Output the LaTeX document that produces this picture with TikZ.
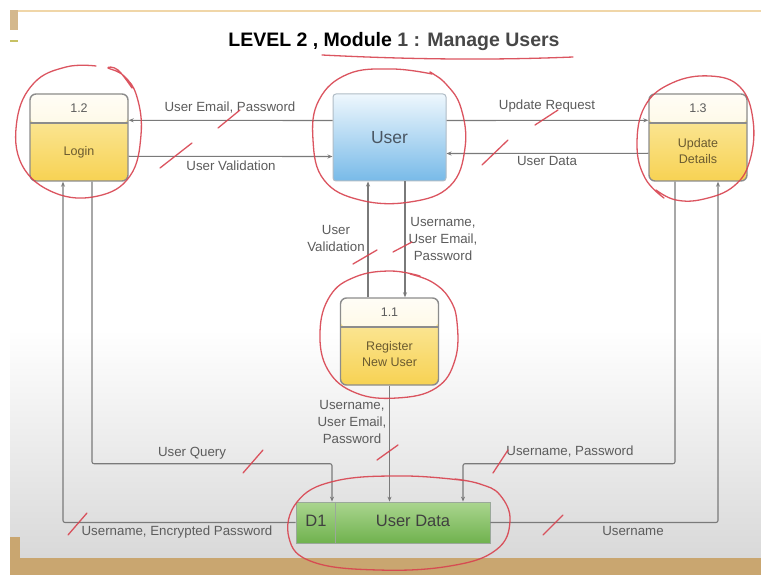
\documentclass[tikz,border=0pt]{standalone}
\usepackage{fontspec}
\setmainfont{Liberation Sans}
\usetikzlibrary{arrows.meta,calc}

\definecolor{linecol}{HTML}{7A7A7A}
\definecolor{lblcol}{HTML}{5C5C5C}
\definecolor{redink}{HTML}{D8434F}
\definecolor{procborder}{HTML}{8C8C8C}
\definecolor{headtop}{HTML}{FFFDF6}
\definecolor{headbot}{HTML}{FDF2CC}
\definecolor{bodytop}{HTML}{FCEDAE}
\definecolor{bodybot}{HTML}{F7D253}
\definecolor{proctext}{HTML}{6A5A30}
\definecolor{usertop}{HTML}{EEF7FD}
\definecolor{userbot}{HTML}{78BAE8}
\definecolor{userborder}{HTML}{B0BCC6}
\definecolor{usertext}{HTML}{4A5662}
\definecolor{storetop}{HTML}{AAD58F}
\definecolor{storebot}{HTML}{70B24E}
\definecolor{storeborder}{HTML}{9AA89A}
\definecolor{tan}{HTML}{C9A670}
\definecolor{tanlight}{HTML}{F0D6A8}

\tikzset{
  proc/.style={draw=procborder, line width=1.4pt, rounded corners=6pt,
    minimum width=98pt, minimum height=87pt, inner sep=0pt,
    top color=bodytop, bottom color=bodybot,
    path picture={
      \shade[top color=headtop, bottom color=headbot]
        (path picture bounding box.north west) rectangle
        ([yshift=-29pt]path picture bounding box.north east);
      \draw[procborder, line width=1.2pt]
        ([yshift=-29pt]path picture bounding box.north west) --
        ([yshift=-29pt]path picture bounding box.north east);
    }},
  procid/.style={font=\fontsize{12.5}{14}\selectfont, text=lblcol},
  procname/.style={font=\fontsize{12.5}{16}\selectfont, text=proctext, align=center},
  entity/.style={draw=userborder, line width=1pt, rounded corners=3pt,
    minimum width=113pt, minimum height=87pt,
    top color=usertop, bottom color=userbot,
    font=\fontsize{17.5}{20}\selectfont, text=usertext},
  store/.style={draw=storeborder, line width=0.8pt,
    minimum width=194pt, minimum height=41pt, inner sep=0pt,
    top color=storetop, bottom color=storebot},
  flow/.style={draw=linecol, line width=1.1pt, rounded corners=2pt,
    -{Stealth[length=5pt,width=4pt]}},
  lbl/.style={font=\fontsize{13.3}{17}\selectfont, text=lblcol, align=center, inner sep=0pt},
  ink/.style={draw=redink, line width=1.3pt, line cap=round, line join=round, opacity=0.9},
}

\begin{document}
\begin{tikzpicture}[x=1pt, y=-1pt]
\useasboundingbox (0,0) rectangle (761,575);

% slide background
\fill[white] (0,0) rectangle (761,575);
\shade[top color=white, bottom color=gray!30] (10,330) rectangle (761,558);
\fill[tanlight] (10,10) rectangle (761,12);
\fill[tan!80!white] (10,10) rectangle (18,30);
\fill[olive!50!white] (10,40) rectangle (18,42);
\fill[tan] (10,537) rectangle (20,575);
\fill[tan] (10,558) rectangle (761,575);

% title
\node[font=\bfseries\fontsize{19.5}{22}\selectfont, inner sep=0pt] (title) at (394,42)
  {LEVEL 2 , Module \textcolor{black!72}{1 : Manage Users}};

% processes, entity and data store
\node[proc] (login) at (79,137.5) {};
\node[procid] (loginid) at (79,108) {1.2};
\node[procname] (loginname) at (79,152) {Login};

\node[entity] (user) at (389.5,137.5) {User};

\node[proc] (upd) at (698,137.5) {};
\node[procid] (updid) at (698,108) {1.3};
\node[procname] (updname) at (698,151) {Update\\Details};

\node[proc] (reg) at (389.5,341.5) {};
\node[procid] (regid) at (389.5,312) {1.1};
\node[procname] (regname) at (389.5,354) {Register\\New User};

\node[store] (d1) at (393,522.5) {};
\draw[storeborder, line width=0.8pt] ([xshift=40pt]d1.north west) -- ([xshift=40pt]d1.south west);
\node[font=\fontsize{16.5}{18}\selectfont, text=black!75] (d1id) at (316,521) {D1};
\node[font=\fontsize{16.5}{18}\selectfont, text=black!75] (d1name) at (413,521) {User Data};

% data flows
\draw[flow] ([yshift=-27pt]user.north west) -- ([yshift=-27pt]login.north east);
\draw[flow] ([yshift=-63pt]login.north east) -- ([yshift=-63pt]user.north west);
\draw[flow] ([yshift=-27pt]user.north east) -- ([yshift=-27pt]upd.north west);
\draw[flow] ([yshift=-60pt]upd.north west) -- ([yshift=-60pt]user.north east);
\draw[flow] ([xshift=-21.5pt]reg.north) -- ([xshift=-21.5pt]user.south);
\draw[flow] ([xshift=15.5pt]user.south) -- ([xshift=15.5pt]reg.north);
\draw[flow] (reg.south) -- (reg.south |- d1.north);
\draw[flow] ([xshift=13pt]login.south) -- ++(0,282) -| ([xshift=-61pt]d1.north);
\draw[flow] (d1.west) -| ([xshift=-16pt]login.south);
\draw[flow] ([xshift=-23pt]upd.south) -- ++(0,282) -| ([xshift=70pt]d1.north);
\draw[flow] (d1.east) -| ([xshift=20pt]upd.south);

% flow labels
\node[lbl] (l1) at (230,108) {User Email, Password};
\node[lbl] (l2) at (231,166) {User Validation};
\node[lbl] (l3) at (547,106) {Update Request};
\node[lbl] (l4) at (547,161) {User Data};
\node[lbl] (l5) at (336,238) {User\\Validation};
\node[lbl] (l6) at (443,239) {Username,\\User Email,\\Password};
\node[lbl] (l7) at (352,422) {Username,\\User Email,\\Password};
\node[lbl] (l8) at (192,453) {User Query};
\node[lbl] (l9) at (177,532) {Username, Encrypted Password};
\node[lbl] (l10) at (570,452) {Username, Password};
\node[lbl] (l11) at (633,531) {Username};

% red pen markings
\draw[ink] (322,55) .. controls (420,60) and (500,60) .. (573,57);

\draw[ink] plot[smooth, tension=0.7] coordinates {
  (96,66) (66,67) (34,83) (17,120) (22,165) (55,193) (98,196)
  (130,176) (141,135) (137,97) (124,76) (108,68) (118,70) (132,88)};
\draw[ink] plot[smooth, tension=0.7] coordinates {
  (432,74) (392,69) (348,74) (319,100) (313,140) (324,180)
  (360,200) (410,202) (450,186) (465,148) (461,108) (446,84) (430,72) (441,79)};
\draw[ink] plot[smooth, tension=0.7] coordinates {
  (664,198) (645,178) (637,145) (645,106) (672,83) (710,76)
  (740,87) (753,120) (750,160) (734,186) (704,199) (676,200) (656,190)};
\draw[ink] plot[smooth, tension=0.7] coordinates {
  (420,276) (390,271) (355,277) (330,296) (320,332) (328,370)
  (356,393) (397,398) (436,388) (455,360) (457,322) (449,298) (432,282) (410,274)};
\draw[ink] plot[smooth, tension=0.7] coordinates {
  (468,481) (405,476) (335,481) (297,502) (289,538) (313,562)
  (378,570) (450,566) (496,550) (510,521) (500,495) (480,484) (455,479)};

\draw[ink] (218,128) -- (240,110);
\draw[ink] (160,168) -- (192,143);
\draw[ink] (535,125) -- (558,110);
\draw[ink] (482,165) -- (508,140);
\draw[ink] (353,264) -- (377,250);
\draw[ink] (393,252) -- (412,242);
\draw[ink] (377,460) -- (398,445);
\draw[ink] (243,473) -- (263,450);
\draw[ink] (68,535) -- (87,513);
\draw[ink] (493,473) -- (508,450);
\draw[ink] (543,535) -- (563,515);
\end{tikzpicture}
\end{document}
